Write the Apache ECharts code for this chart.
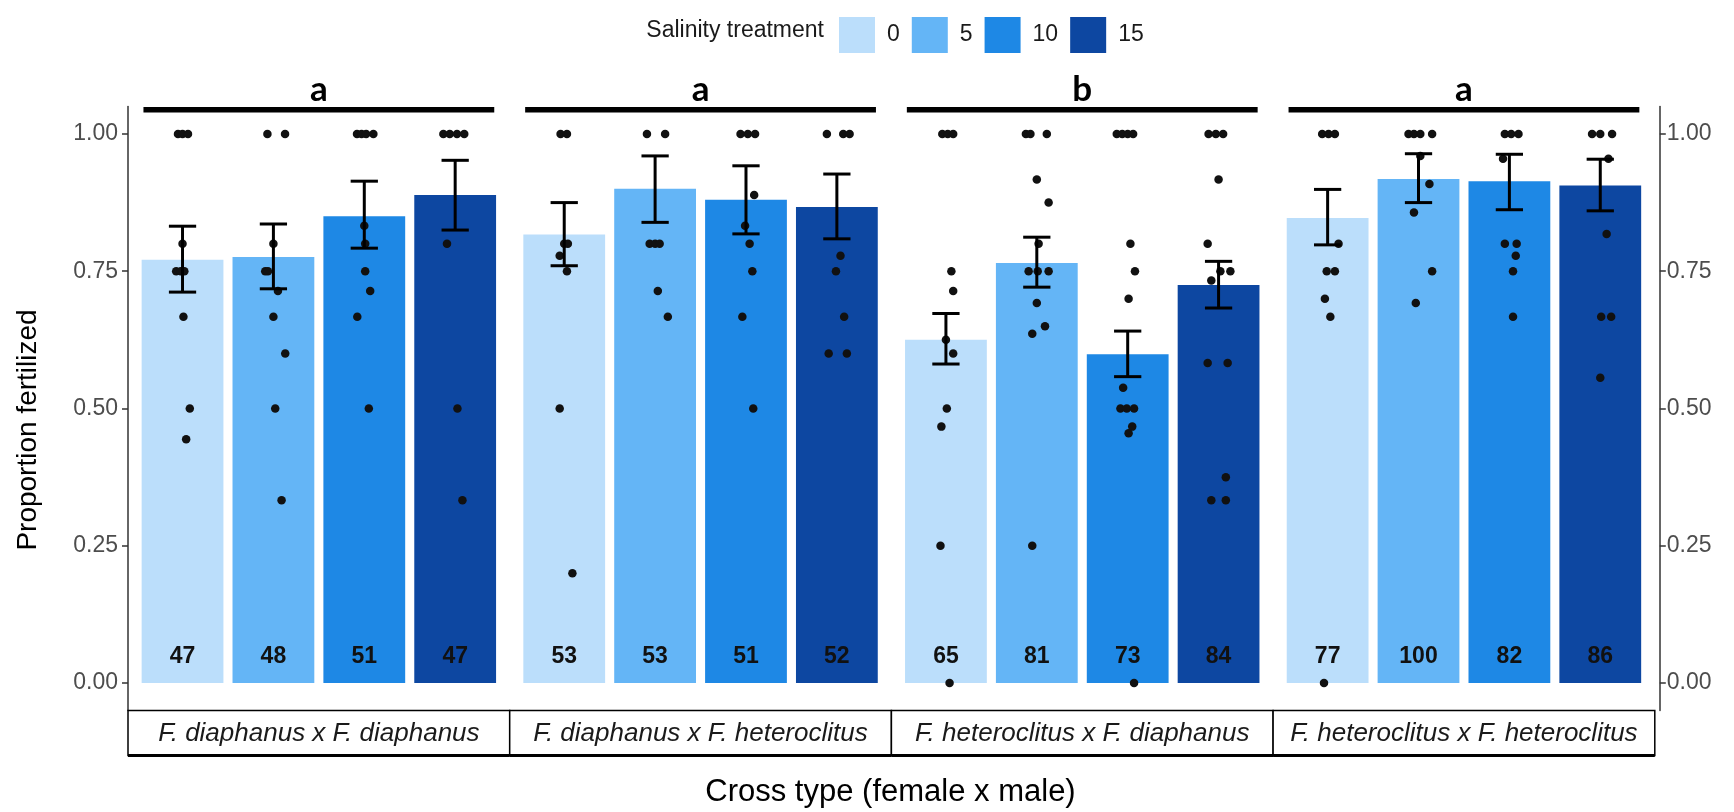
<!DOCTYPE html>
<html>
<head>
<meta charset="utf-8">
<script src="https://cdn.jsdelivr.net/npm/echarts@6/dist/echarts.min.js"></script>
<style>html,body{margin:0;padding:0;background:#fff;}#chart{width:1734px;height:812px;}</style>
</head>
<body>
<div id="chart"></div>
<script>
// ---------- data ----------
const crosses = ['F. diaphanus x F. diaphanus', 'F. diaphanus x F. heteroclitus', 'F. heteroclitus x F. diaphanus', 'F. heteroclitus x F. heteroclitus'];
const salinityLevels = ['0', '5', '10', '15'];
const groupLetters = ['a', 'a', 'b', 'a'];
const yTicks = [0, 0.25, 0.5, 0.75, 1];

const meanFertilized = [
  [0.771, 0.776, 0.850, 0.889],
  [0.817, 0.900, 0.880, 0.867],
  [0.625, 0.765, 0.599, 0.725],
  [0.847, 0.918, 0.914, 0.906]
];
const seLower = [
  [0.712, 0.718, 0.792, 0.825],
  [0.760, 0.839, 0.818, 0.809],
  [0.581, 0.721, 0.558, 0.683],
  [0.798, 0.875, 0.862, 0.860]
];
const seUpper = [
  [0.832, 0.836, 0.914, 0.952],
  [0.875, 0.960, 0.942, 0.927],
  [0.673, 0.812, 0.641, 0.768],
  [0.899, 0.964, 0.963, 0.954]
];
const sampleSizes = [
  [47, 48, 51, 47],
  [53, 53, 51, 52],
  [65, 81, 73, 84],
  [77, 100, 82, 86]
];

// individual families: [salinity index, jitter (category units), proportion]
const pointsDD = [
  [0,-0.05,1],[0,0.0,1],[0,0.06,1],[0,0,0.8],[0,-0.07,0.75],[0,-0.02,0.75],[0,0.02,0.75],[0,0.01,0.667],[0,0.08,0.5],[0,0.04,0.444],
  [1,-0.066,1],[1,0.128,1],[1,0,0.8],[1,-0.09,0.75],[1,-0.06,0.75],[1,0.05,0.714],[1,0,0.667],[1,0.13,0.6],[1,0.02,0.5],[1,0.09,0.333],
  [2,-0.08,1],[2,-0.03,1],[2,0.02,1],[2,0.1,1],[2,0,0.833],[2,0.01,0.8],[2,0.01,0.75],[2,0.065,0.714],[2,-0.077,0.667],[2,0.05,0.5],
  [3,-0.13,1],[3,-0.06,1],[3,0.02,1],[3,0.1,1],[3,-0.09,0.8],[3,0.025,0.5],[3,0.08,0.333]
];
const pointsDH = [
  [0,-0.04,1],[0,0.03,1],[0,0,0.8],[0,0.04,0.8],[0,-0.05,0.778],[0,0.03,0.75],[0,-0.05,0.5],[0,0.09,0.2],
  [1,-0.09,1],[1,0.11,1],[1,-0.06,0.8],[1,0,0.8],[1,0.05,0.8],[1,0.03,0.714],[1,0.14,0.667],
  [2,-0.06,1],[2,0.02,1],[2,0.1,1],[2,0.09,0.889],[2,-0.01,0.833],[2,0.04,0.8],[2,0.07,0.75],[2,-0.04,0.667],[2,0.08,0.5],
  [3,-0.11,1],[3,0.07,1],[3,0.14,1],[3,0.04,0.778],[3,-0.01,0.75],[3,0.08,0.667],[3,-0.09,0.6],[3,0.11,0.6]
];
const pointsHD = [
  [0,-0.04,1],[0,0.02,1],[0,0.08,1],[0,0.06,0.75],[0,0.08,0.714],[0,0,0.625],[0,0.08,0.6],[0,0.01,0.5],[0,-0.05,0.467],[0,-0.06,0.25],[0,0.04,0],
  [1,-0.12,1],[1,-0.07,1],[1,0.11,1],[1,0,0.917],[1,0.13,0.875],[1,0.02,0.8],[1,-0.09,0.75],[1,0.01,0.75],[1,0.13,0.75],[1,0,0.692],[1,0.09,0.65],[1,-0.05,0.636],[1,-0.05,0.25],
  [2,-0.12,1],[2,-0.06,1],[2,0,1],[2,0.06,1],[2,0.03,0.8],[2,0.08,0.75],[2,0.01,0.7],[2,-0.05,0.538],[2,-0.08,0.5],[2,-0.01,0.5],[2,0.07,0.5],[2,0.05,0.467],[2,0.01,0.455],[2,0.07,0],
  [3,-0.11,1],[3,-0.03,1],[3,0.05,1],[3,0,0.917],[3,-0.12,0.8],[3,0.02,0.75],[3,0.13,0.75],[3,-0.08,0.733],[3,-0.12,0.583],[3,0.1,0.583],[3,0.08,0.375],[3,-0.08,0.333],[3,0.08,0.333]
];
const pointsHH = [
  [0,-0.06,1],[0,0.01,1],[0,0.08,1],[0,0.12,0.8],[0,-0.01,0.75],[0,0.08,0.75],[0,-0.03,0.7],[0,0.03,0.667],[0,-0.04,0],
  [1,-0.11,1],[1,-0.05,1],[1,0.02,1],[1,0.15,1],[1,0.02,0.96],[1,0.12,0.909],[1,-0.05,0.857],[1,0.15,0.75],[1,-0.03,0.692],
  [2,-0.05,1],[2,0.02,1],[2,0.1,1],[2,-0.07,0.955],[2,-0.05,0.8],[2,0.08,0.8],[2,0.07,0.778],[2,0.04,0.75],[2,0.04,0.667],
  [3,-0.09,1],[3,0,1],[3,0.13,1],[3,0.09,0.955],[3,0.07,0.818],[3,0.01,0.667],[3,0.12,0.667],[3,0,0.556]
];
const crossPoints = [pointsDD, pointsDH, pointsHD, pointsHH];

// ---------- styling / layout ----------
const barColors = ['#BBDEFB', '#64B5F6', '#1E88E5', '#0D47A1'];
const FONT = '"Liberation Sans", Arial, sans-serif';
const panelLeft = 128, panelW = 381.7, gridTop = 106.5, gridH = 604;
const sigLevel = 1.044;

const chart = echarts.init(document.getElementById('chart'), null, {renderer: 'canvas'});

const grids = [], xAxes = [], yAxes = [], series = [];
for (let p = 0; p < 4; p++) {
  grids.push({left: panelLeft + p * panelW, top: gridTop, width: panelW, height: gridH, containLabel: false});
  xAxes.push({type: 'value', gridIndex: p, min: -0.6, max: 3.6, show: false});
  const showY = (p === 0 || p === 3);
  yAxes.push({
    type: 'value', gridIndex: p, min: -0.05, max: 1.05, show: showY,
    position: p === 3 ? 'right' : 'left', offset: p === 3 ? 5 : 0,
    splitLine: {show: false},
    axisLine: {show: true, onZero: false, lineStyle: {color: '#333', width: 1.5}},
    axisTick: {show: true, length: 6, customValues: yTicks, lineStyle: {color: '#333', width: 1.5}},
    axisLabel: {customValues: yTicks, formatter: v => Number(v).toFixed(2), color: '#4d4d4d', fontSize: 23,
                fontFamily: FONT, margin: p === 3 ? 7 : 10}
  });

  for (let s = 0; s < 4; s++) {
    series.push({
      name: salinityLevels[s], type: 'bar', xAxisIndex: p, yAxisIndex: p,
      data: [[s, meanFertilized[p][s]]],
      barWidth: '90%', barGap: '-100%',
      itemStyle: {color: barColors[s]},
      label: {show: true, position: 'insideBottom', distance: 15, formatter: String(sampleSizes[p][s]),
              color: '#111', fontWeight: 'bold', fontSize: 23, fontFamily: FONT},
      silent: true, z: 2
    });
  }

  series.push({
    type: 'scatter', xAxisIndex: p, yAxisIndex: p,
    data: crossPoints[p].map(d => [d[0] + d[1], d[2]]),
    symbolSize: 8.5, itemStyle: {color: '#111', opacity: 1}, silent: true, z: 3
  });

  series.push({
    type: 'custom', xAxisIndex: p, yAxisIndex: p, silent: true, z: 4,
    data: salinityLevels.map((_, s) => [s, seLower[p][s], seUpper[p][s]]),
    encode: {x: 0, y: [1, 2]},
    renderItem: function (params, api) {
      const x = api.value(0);
      const lo = api.coord([x, api.value(1)]);
      const hi = api.coord([x, api.value(2)]);
      const half = api.size([0.15, 0])[0];
      const st = {stroke: '#000', lineWidth: 3};
      return {type: 'group', children: [
        {type: 'line', shape: {x1: lo[0], y1: lo[1], x2: hi[0], y2: hi[1]}, style: st},
        {type: 'line', shape: {x1: lo[0] - half, y1: lo[1], x2: lo[0] + half, y2: lo[1]}, style: st},
        {type: 'line', shape: {x1: hi[0] - half, y1: hi[1], x2: hi[0] + half, y2: hi[1]}, style: st}
      ]};
    }
  });

  series.push({
    type: 'custom', xAxisIndex: p, yAxisIndex: p, silent: true, z: 5, clip: false,
    data: [[0]],
    renderItem: function (params, api) {
      const cs = params.coordSys;
      const a = api.coord([-0.43, sigLevel]);
      const b = api.coord([3.43, sigLevel]);
      const mid = api.coord([1.5, sigLevel]);
      const stripTop = cs.y + cs.height, stripH = 45;
      return {type: 'group', children: [
        {type: 'rect', shape: {x: cs.x, y: stripTop, width: cs.width, height: stripH},
         style: {fill: '#fff', stroke: '#000', lineWidth: 1.5}},
        {type: 'line', shape: {x1: cs.x, y1: stripTop + stripH, x2: cs.x + cs.width, y2: stripTop + stripH},
         style: {stroke: '#000', lineWidth: 3}},
        {type: 'text', x: cs.x + cs.width / 2, y: stripTop + stripH / 2 + 1,
         style: {text: crosses[p], fill: '#1a1a1a', font: 'italic 26px ' + FONT, align: 'center', verticalAlign: 'middle'}},
        {type: 'line', shape: {x1: a[0], y1: a[1], x2: b[0], y2: b[1]}, style: {stroke: '#000', lineWidth: 5.5}},
        {type: 'text', x: mid[0], y: mid[1] - 20,
         style: {text: groupLetters[p], fill: '#000', font: 'bold 35px Lato, "Open Sans", sans-serif', align: 'center', verticalAlign: 'middle'}}
      ]};
    }
  });
}

chart.setOption({
  backgroundColor: '#fff',
  animation: false,
  grid: grids,
  xAxis: xAxes,
  yAxis: yAxes,
  legend: {
    data: salinityLevels, left: 834, top: 12, itemWidth: 36, itemHeight: 36, itemGap: 12, icon: 'rect',
    selectedMode: false,
    textStyle: {fontSize: 23, color: '#1a1a1a', fontFamily: FONT, padding: [0, 0, 0, 7]}
  },
  graphic: [
    {type: 'text', x: 824, y: 31, style: {text: 'Salinity treatment', fill: '#1a1a1a', font: '23px ' + FONT, align: 'right', verticalAlign: 'middle'}},
    {type: 'text', x: 28, y: 430, rotation: Math.PI / 2, style: {text: 'Proportion fertilized', fill: '#000', font: '28px ' + FONT, align: 'center', verticalAlign: 'middle'}},
    {type: 'text', x: 890.5, y: 792, style: {text: 'Cross type (female x male)', fill: '#000', font: '31px ' + FONT, align: 'center', verticalAlign: 'middle'}}
  ],
  series: series
});
</script>
</body>
</html>
